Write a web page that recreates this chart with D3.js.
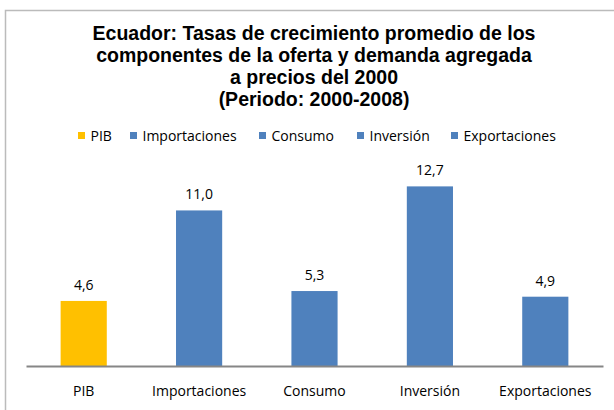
<!DOCTYPE html>
<html>
<head>
<meta charset="utf-8">
<script src="https://cdn.jsdelivr.net/npm/d3@7"></script>
<style>
  body { margin: 0; background: #fff; }
  svg { display: block; }
</style>
</head>
<body>
<div id="chart"></div>
<script>
// data
const categories = ['PIB', 'Importaciones', 'Consumo', 'Inversión', 'Exportaciones'];
const values = [4.6, 11.0, 5.3, 12.7, 4.9];
const colors = ['#FFC000', '#4F81BD', '#4F81BD', '#4F81BD', '#4F81BD'];
const titleLines = [
    'Ecuador: Tasas de crecimiento promedio de los',
    'componentes de la oferta y demanda agregada',
    'a precios del 2000',
    '(Periodo: 2000-2008)'
];

const width = 614;
const height = 410;
const labelFont = 'Open Sans, sans-serif';
const labelSize = 14;

const svg = d3.select('#chart')
              .append('svg')
              .attr('width', width)
              .attr('height', height);

// frame
svg.append('rect')
   .attr('x', 5.5)
   .attr('y', 10.5)
   .attr('width', width)
   .attr('height', height)
   .attr('fill', 'none')
   .attr('stroke', '#BBBBBB')
   .attr('stroke-width', 1.5);

// title
svg.append('text')
   .attr('text-anchor', 'middle')
   .attr('font-family', 'Liberation Sans, Arial, sans-serif')
   .attr('font-weight', 'bold')
   .attr('font-size', 19.5)
   .attr('fill', '#000')
   .selectAll('tspan')
   .data(titleLines)
   .enter()
   .append('tspan')
   .attr('x', 314)
   .attr('y', (d, i) => 40 + i * 22)
   .text(d => d);

// scales
const xScale = d3.scaleBand().domain(categories).range([26, 603]).paddingInner(0.6).paddingOuter(0.3);
const yScale = d3.scaleLinear().domain([0, 14]).range([366, 168]);

// bars
svg.selectAll('rect.bar')
   .data(values)
   .enter()
   .append('rect')
   .attr('class', 'bar')
   .attr('x', (d, i) => xScale(categories[i]))
   .attr('y', d => yScale(d))
   .attr('width', xScale.bandwidth())
   .attr('height', d => yScale(0) - yScale(d))
   .attr('fill', (d, i) => colors[i]);

// value labels
svg.selectAll('text.value')
   .data(values)
   .enter()
   .append('text')
   .attr('class', 'value')
   .attr('x', (d, i) => xScale(categories[i]) + xScale.bandwidth() / 2)
   .attr('y', d => yScale(d) - 11)
   .attr('text-anchor', 'middle')
   .attr('font-family', labelFont)
   .attr('font-size', labelSize)
   .attr('fill', '#000')
   .text(d => d3.format('.1f')(d).replace('.', ','));

// x axis
const xAxis = d3.axisBottom(xScale).tickSize(0).tickPadding(20);
const gx = svg.append('g')
              .attr('transform', `translate(0, ${yScale(0)})`)
              .call(xAxis);
gx.select('.domain').attr('stroke', '#868686').attr('stroke-width', 2);
gx.selectAll('text')
  .attr('font-family', labelFont)
  .attr('font-size', labelSize)
  .attr('fill', '#000');

// legend
const legendX = [78, 130, 259, 357, 451];
const legend = svg.append('g')
                  .selectAll('g')
                  .data(categories)
                  .enter()
                  .append('g')
                  .attr('transform', (d, i) => `translate(${legendX[i]}, 136)`);
legend.append('rect')
      .attr('x', 0)
      .attr('y', -4)
      .attr('width', 7)
      .attr('height', 7)
      .attr('fill', (d, i) => colors[i]);
legend.append('text')
      .attr('x', 12.5)
      .attr('y', 5)
      .attr('font-family', labelFont)
      .attr('font-size', labelSize)
      .attr('fill', '#000')
      .text(d => d);
</script>
</body>
</html>
